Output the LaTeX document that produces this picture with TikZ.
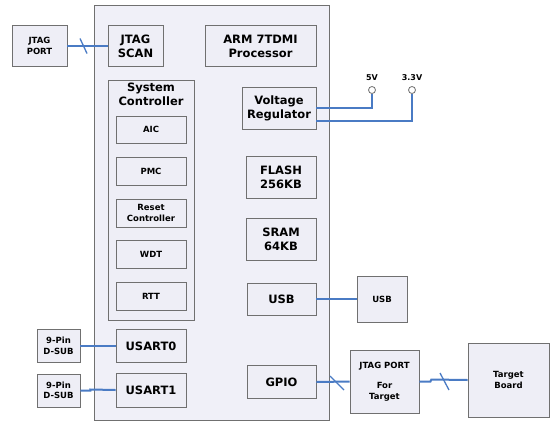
\documentclass[tikz,border=0pt]{standalone}
\usepackage{fontspec}
\setmainfont{DejaVu Sans}
\usetikzlibrary{calc}
\definecolor{boxfill}{HTML}{EEEEF6}
\definecolor{mainfill}{HTML}{F0F0F8}
\definecolor{edge}{HTML}{707070}
\definecolor{wire}{HTML}{4A7BC4}
\begin{document}
\begin{tikzpicture}[x=1pt,y=-1pt,
  blk/.style={draw=edge,line width=0.9pt,fill=boxfill,align=center,inner sep=0pt,font=\bfseries\fontsize{11.5}{14}\selectfont},
  sblk/.style={blk,font=\bfseries\fontsize{8.5}{10.5}\selectfont},
  wireln/.style={draw=wire,line width=2pt},
  tick/.style={draw=wire,line width=1.3pt}]
\useasboundingbox (0,0) rectangle (553,423);
% main chip
\node[draw=edge,line width=1pt,fill=mainfill,minimum width=235pt,minimum height=415pt,inner sep=0pt] (chip) at (211.5,212.5) {};
\newcommand{\bx}[6]{\node[#1,minimum width=#4pt,minimum height=#5pt] (#2) at (#3) {#6};}
% top row
\bx{sblk}{jport}{39.5,46}{55}{41}{JTAG\\PORT}
\bx{blk}{jscan}{135.5,46}{55}{41}{JTAG\\SCAN}
\bx{blk}{arm}{260.5,46}{111}{41}{ARM 7TDMI\\Processor}
% system controller
\node[draw=edge,line width=0.9pt,fill=boxfill,minimum width=86pt,minimum height=240pt,inner sep=0pt] (sys) at (151,200) {};
\node[font=\bfseries\fontsize{11.5}{14}\selectfont,align=center,anchor=north,inner sep=0pt] (systxt) at (151,83) {System\\Controller};
\bx{sblk}{aic}{151,129.5}{70}{27}{AIC}
\bx{sblk}{pmc}{151,171}{70}{28}{PMC}
\node[sblk,minimum width=70pt,minimum height=28pt,font=\bfseries\fontsize{8.5}{11}\selectfont] (rst) at (151,213) {Reset\\Controller};
\bx{sblk}{wdt}{151,254}{70}{28}{WDT}
\bx{sblk}{rtt}{151,296}{70}{28}{RTT}
% right column
\bx{blk}{vreg}{279,108}{74}{42}{Voltage\\Regulator}
\bx{blk}{flash}{281,177}{70}{42}{FLASH\\256KB}
\bx{blk}{sram}{281,239}{70}{42}{SRAM\\64KB}
\bx{blk}{usb}{281.5,299}{69}{32}{USB}
\bx{blk}{gpio}{281.5,382}{69}{33}{GPIO}
% usarts
\bx{blk}{usart0}{151,346}{70}{33}{USART0}
\bx{blk}{usart1}{151,390}{70}{34}{USART1}
\bx{sblk}{dsub0}{58.5,346}{43}{33}{9-Pin\\D-SUB}
\bx{sblk}{dsub1}{58.5,390.5}{43}{33}{9-Pin\\D-SUB}
% external
\bx{sblk}{usbx}{382,299}{50}{46}{USB}
\node[sblk,minimum width=69pt,minimum height=63pt] (jtgt) at (384.5,381.5) {JTAG PORT\\[10pt]For\\Target};
\bx{sblk}{tboard}{508.5,380}{81}{74}{Target\\Board}
% power pins
\node[circle,draw=edge,fill=white,line width=0.8pt,minimum size=7pt,inner sep=0pt] (p5) at (372,90) {};
\node[circle,draw=edge,fill=white,line width=0.8pt,minimum size=7pt,inner sep=0pt] (p33) at (412,90) {};
\node[font=\bfseries\fontsize{8}{9}\selectfont,anchor=south,inner sep=0pt] (l5) at (372,81) {5V};
\node[font=\bfseries\fontsize{8}{9}\selectfont,anchor=south,inner sep=0pt] (l33) at (412,81) {3.3V};
% wires
\draw[wireln] (jport.east) -- (jscan.west);
\draw[wireln] (vreg.east) -| (p5.south);
\draw[wireln] ([yshift=-13pt]vreg.east) -| (p33.south);
\draw[wireln] (dsub0.east) -- (usart0.west);
\draw[wireln] (dsub1.east) -- ++(10,0) -- ++(0,-1) -- (usart1.west);
\draw[wireln] (usb.east) -- (usbx.west);
\draw[wireln] (gpio.east) -- (jtgt.west);
\draw[wireln] (jtgt.east) -- ++(11,0) -- ++(1,-2) -- (tboard.west |- 0,380);
% bus ticks
\coordinate (t1) at (83.5,46);
\coordinate (t2) at (337,383);
\coordinate (t3) at (444.5,381.5);
\draw[tick] ($(t1)+(-3.5,-7.5)$) -- ($(t1)+(3.5,7.5)$);
\draw[tick] ($(t2)+(-7,-7)$) -- ($(t2)+(7,7)$);
\draw[tick] ($(t3)+(-4.5,-8.5)$) -- ($(t3)+(4.5,8.5)$);
\end{tikzpicture}
\end{document}
